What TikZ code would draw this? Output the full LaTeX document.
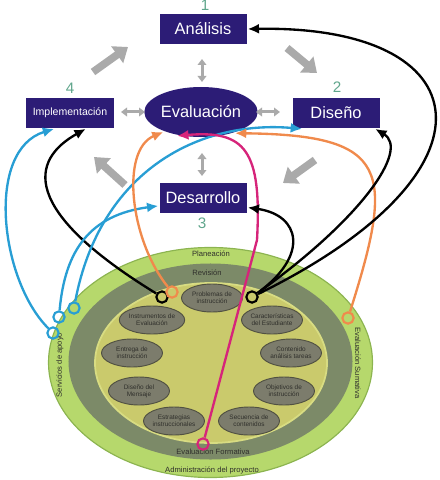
\documentclass[tikz,border=0pt]{standalone}
\usepackage{fontspec}
\setmainfont{Liberation Sans}
\usetikzlibrary{arrows.meta,shapes.geometric}
\definecolor{azulfase}{RGB}{44,28,118}
\definecolor{grisflecha}{RGB}{170,170,170}
\definecolor{verdenum}{RGB}{96,166,140}
\definecolor{verdeclaro}{RGB}{182,216,108}
\definecolor{verdeborde}{RGB}{140,180,80}
\definecolor{verdeoscuro}{RGB}{124,138,104}
\definecolor{amarillo}{RGB}{202,202,108}
\definecolor{amarilloborde}{RGB}{216,220,130}
\definecolor{grisel}{RGB}{124,124,108}
\definecolor{griselborde}{RGB}{80,80,66}
\definecolor{textoel}{RGB}{48,48,44}
\definecolor{naranja}{RGB}{240,138,76}
\definecolor{rosa}{RGB}{214,36,122}
\definecolor{celeste}{RGB}{40,158,212}
\begin{document}
\begin{tikzpicture}[x=.03cm,y=-.03cm,line width=2pt,
  >={Latex[length=3.4mm,width=3mm]},
  fase/.style={fill=azulfase,text=white,minimum width=2.61cm,minimum height=.88cm,inner sep=0pt,font=\fontsize{14}{16}\selectfont},
  num/.style={text=verdenum,font=\fontsize{13}{15}\selectfont},
  ciclo/.style={draw=grisflecha,line width=2.3mm,-{Triangle[length=4mm,width=6mm]}},
  enlace/.style={draw=grisflecha,line width=.9mm,{Triangle[length=1.8mm,width=2.6mm]}-{Triangle[length=1.8mm,width=2.6mm]}},
  elem/.style={ellipse,fill=grisel,draw=griselborde,line width=.8pt,minimum width=1.83cm,minimum height=.84cm,inner sep=0pt,align=center,text=textoel,font=\fontsize{5.5}{6}\selectfont},
  anillo/.style={text=textoel,font=\fontsize{6.5}{7}\selectfont},
  punto/.style={circle,draw=#1,line width=1.8pt,minimum size=3.4mm,inner sep=0pt},
  curva/.style={draw=#1,line width=2pt,->}]
  \useasboundingbox (0,0) rectangle (439,480);
  % modelo
  \node[ellipse,fill=verdeclaro,draw=verdeborde,line width=1pt,minimum width=9.72cm,minimum height=6.9cm] (adm) at (210.5,362.5) {};
  \node[ellipse,fill=verdeoscuro,minimum width=8.52cm,minimum height=5.88cm] (revi) at (210.5,361.5) {};
  \node[ellipse,fill=amarillo,draw=amarilloborde,line width=1.5pt,minimum width=6.96cm,minimum height=4.8cm] (nuc) at (211,363) {};
  \node[anillo] (plan) at (211,254) {Planeación};
  \node[anillo] (rev) at (207,273) {Revisión};
  \node[anillo] (evfor) at (213,452) {Evaluación Formativa};
  \node[anillo] (admin) at (212,470) {Administración del proyecto};
  \node[anillo,rotate=90] (serv) at (60,365) {Servicios de apoyo};
  \node[anillo,rotate=-90] (evsum) at (358,363) {Evaluación Sumativa};
  \node[elem] (e1) at (212,298) {Problemas de\\instrucción};
  \node[elem] (e2) at (272,320) {Características\\del Estudiante};
  \node[elem] (e3) at (291,353) {Contenido\\análisis tareas};
  \node[elem] (e4) at (284,391) {Objetivos de\\instrucción};
  \node[elem] (e5) at (249,421) {Secuencia de\\contenidos};
  \node[elem] (e6) at (174,421) {Estrategias\\instruccionales};
  \node[elem] (e7) at (139,391) {Diseño del\\Mensaje};
  \node[elem] (e8) at (132,353) {Entrega de\\instrucción};
  \node[elem] (e9) at (152,320) {Instrumentos de\\Evaluación};
  % fases
  \node[fase] (anal) at (203,29) {Análisis};
  \node[fase] (dis) at (336,113) {Diseño};
  \node[fase] (des) at (203,198) {Desarrollo};
  \node[fase,font=\fontsize{9}{10}\selectfont] (impl) at (70,113) {Implementación};
  \node[ellipse,fill=azulfase,text=white,minimum width=2.82cm,minimum height=1.5cm,inner sep=0pt,font=\fontsize{14}{16}\selectfont] (eval) at (201,112) {Evaluación};
  \node[num] (n1) at (205,5) {1};
  \node[num] (n2) at (337,87) {2};
  \node[num] (n3) at (202,223) {3};
  \node[num] (n4) at (70,88) {4};
  \coordinate (c1a) at (93,72);
  \coordinate (c1b) at (128,47);
  \coordinate (c2a) at (287,48);
  \coordinate (c2b) at (317,73);
  \coordinate (c3a) at (315,160);
  \coordinate (c3b) at (283,183);
  \coordinate (c4a) at (125,185);
  \coordinate (c4b) at (94,157);
  \draw[ciclo] (c1a)--(c1b);
  \draw[ciclo] (c2a)--(c2b);
  \draw[ciclo] (c3a)--(c3b);
  \draw[ciclo] (c4a)--(c4b);
  \coordinate (v1a) at (202,59);
  \coordinate (v1b) at (202,82);
  \coordinate (v2a) at (202,153);
  \coordinate (v2b) at (202,176);
  \coordinate (h1a) at (121,112);
  \coordinate (h1b) at (145,112);
  \coordinate (h2a) at (256,112);
  \coordinate (h2b) at (280,112);
  \draw[enlace] (v1a)--(v1b);
  \draw[enlace] (v2a)--(v2b);
  \draw[enlace] (h1a)--(h1b);
  \draw[enlace] (h2a)--(h2b);
  % enlaces
  \node[punto=black] (pb1) at (162,297) {};
  \node[punto=naranja] (po1) at (172,292) {};
  \node[punto=black] (pb2) at (252,297) {};
  \node[punto=naranja] (po2) at (348,318) {};
  \node[punto=celeste] (pu1) at (53,333) {};
  \node[punto=celeste] (pu2) at (59,317) {};
  \node[punto=celeste] (pu3) at (74,308) {};
  \node[punto=rosa] (pm) at (203,444) {};
  \coordinate (mq) at (257,240);
  \draw[curva=black] (pb1) .. controls (20,210) and (30,160) .. (impl.315);
  \draw[curva=celeste] (pu1) .. controls (0,280) and (-15,150) .. (impl.225);
  \draw[curva=celeste] (pu2) .. controls (65,250) and (90,215) .. (des.190);
  \draw[curva=celeste] (pu3) .. controls (100,170) and (200,120) .. (dis.205);
  \draw[curva=naranja] (po1) .. controls (130,240) and (120,150) .. (eval.208);
  \draw[curva=naranja] (po2) .. controls (395,170) and (390,135) .. (eval.-32);
  \draw[curva=rosa] (pm) -- (mq) .. controls (262,150) and (245,130) .. (eval.225);
  \draw[curva=black] (pb2) .. controls (310,255) and (300,215) .. (des.-12);
  \draw[curva=black] (pb2) .. controls (360,220) and (410,150) .. (dis.-22);
  \draw[curva=black] (pb2) .. controls (510,170) and (480,25) .. (anal.east);
\end{tikzpicture}
\end{document}
